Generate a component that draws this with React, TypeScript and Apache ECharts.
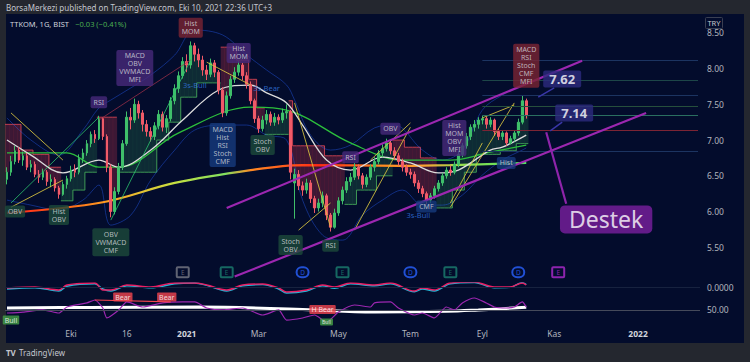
import React, { useEffect, useRef } from 'react';
import * as echarts from 'echarts';

const FONT = 'Noto Sans';
const N_SLOTS = 174;

// ---- candles (slot index = position in arrays) ----
const opens = [6.45,6.55,6.70,6.86,6.72,6.78,6.62,6.66,6.52,6.48, 6.55,6.42,6.45,6.33,6.24,6.38,6.46,6.58,6.55,6.74, 6.82,6.95,7.08,7.02,7.30,7.05,6.62,6.00,6.28,6.62, 6.95,7.32,7.28,7.50,7.38,7.22,7.12,7.05,7.20,7.36, 7.18,7.30,7.55,7.72,7.90,8.10,8.05,8.32,8.20,8.12, 7.98,7.92,8.08,7.95,7.70,7.38,7.62,7.85,7.95,8.05, 7.90,7.78,7.55,7.30,7.16,7.28,7.36,7.25,7.32,7.28, 7.38,7.40,6.40,6.52,6.36,6.30,6.40,6.18,6.05,6.12, 6.22,5.95,5.78,5.98,6.15,6.30,6.42,6.48,6.62,6.50, 6.38,6.48,6.62,6.70,6.82,6.88,6.96,6.85,6.78,6.70, 6.62,6.55,6.52,6.40,6.32,6.25,6.16,6.22,6.32,6.40, 6.50,6.58,6.55,6.66,6.80,6.92,7.05,7.18,7.22,7.28, 7.30,7.22,7.28,7.12,7.05,7.10,6.96,7.02,7.10,7.25, 7.55];
const closes = [6.55,6.70,6.85,6.72,6.78,6.62,6.66,6.52,6.48,6.55, 6.42,6.45,6.33,6.24,6.38,6.46,6.58,6.55,6.74,6.82, 6.95,7.08,7.02,7.30,7.05,6.62,6.00,6.28,6.62,6.95, 7.32,7.28,7.50,7.38,7.22,7.12,7.05,7.20,7.36,7.18, 7.30,7.55,7.72,7.90,8.10,8.05,8.32,8.20,8.12,7.98, 7.92,8.08,7.95,7.70,7.38,7.62,7.85,7.95,8.05,7.90, 7.78,7.55,7.30,7.16,7.28,7.36,7.25,7.32,7.28,7.38, 7.40,6.55,6.52,6.36,6.30,6.40,6.18,6.05,6.12,6.22, 5.95,5.78,5.98,6.15,6.30,6.42,6.48,6.62,6.50,6.38, 6.48,6.62,6.70,6.82,6.88,6.96,6.85,6.78,6.70,6.62, 6.55,6.52,6.40,6.32,6.25,6.16,6.22,6.32,6.40,6.50, 6.58,6.55,6.66,6.80,6.92,7.05,7.18,7.22,7.28,7.30, 7.22,7.28,7.12,7.05,7.10,6.96,7.02,7.10,7.25,7.55, 7.35];
const lows = [6.38,6.50,6.66,6.68,6.64,6.58,6.55,6.48,6.40,6.44, 6.36,6.34,6.28,6.18,6.22,6.32,6.42,6.48,6.52,6.68, 6.78,6.90,6.96,7.00,7.00,6.55,5.92,5.96,6.24,6.58, 6.92,7.15,7.24,7.30,7.12,7.05,6.98,7.00,7.15,7.12, 7.10,7.26,7.50,7.66,7.86,7.95,8.00,8.10,8.02,7.90, 7.84,7.88,7.88,7.64,7.32,7.34,7.58,7.80,7.90,7.84, 7.72,7.50,7.24,7.10,7.12,7.22,7.20,7.20,7.22,7.24, 7.30,6.45,5.90,6.30,6.22,6.25,6.12,5.98,6.00,6.06, 5.88,5.72,5.76,5.94,6.10,6.26,6.36,6.44,6.45,6.32, 6.34,6.44,6.56,6.66,6.76,6.84,6.80,6.72,6.64,6.56, 6.50,6.46,6.35,6.26,6.20,6.10,6.12,6.18,6.28,6.36, 6.46,6.50,6.52,6.62,6.76,6.88,7.00,7.12,7.16,7.22, 7.16,7.18,7.06,7.00,7.00,6.92,6.94,6.98,7.06,7.22, 7.30];
const highs = [6.62,6.78,6.92,6.90,6.84,6.82,6.72,6.70,6.58,6.60, 6.58,6.52,6.48,6.36,6.42,6.50,6.64,6.66,6.80,6.88, 7.00,7.12,7.14,7.34,7.32,7.08,6.66,6.34,6.68,7.00, 7.40,7.45,7.58,7.55,7.42,7.28,7.18,7.25,7.42,7.40, 7.35,7.60,7.78,7.96,8.16,8.20,8.38,8.36,8.28,8.18, 8.05,8.14,8.12,7.98,7.74,7.68,7.90,8.02,8.10,8.08, 7.95,7.82,7.58,7.34,7.34,7.42,7.40,7.38,7.36,7.44, 7.50,7.42,6.60,6.58,6.42,6.46,6.44,6.22,6.18,6.28, 6.25,5.98,6.04,6.20,6.35,6.48,6.54,6.68,6.66,6.54, 6.52,6.66,6.76,6.86,6.94,7.02,7.00,6.90,6.82,6.74, 6.66,6.60,6.56,6.44,6.36,6.28,6.26,6.36,6.44,6.54, 6.62,6.64,6.70,6.84,6.96,7.10,7.22,7.28,7.32,7.34, 7.33,7.32,7.30,7.16,7.14,7.12,7.06,7.14,7.30,7.62, 7.58];

// ---- trailing stop band (step changes) ----
const stopSlots = [0,4,7,11,14,17,20,23,28,38,41,44,48,54,58,61,63,65,71,72,80,85,88,93,97,100,104,108,112,115,118,124,128];
const stopLevels = [7.22,6.86,6.80,6.62,6.15,6.30,6.55,7.32,6.55,7.00,7.25,7.60,7.80,8.30,8.12,7.85,7.45,7.08,7.55,6.92,6.78,6.10,6.30,6.50,7.00,6.90,6.75,6.05,6.30,6.55,6.80,6.85,6.95];
const stopBull = [0,0,0,0,1,1,1,0,1,1,1,1,1,0,0,0,0,1,0,0,0,1,1,1,0,0,0,1,1,1,1,1,1];

// ---- moving averages / bands: [slot, price] vertices ----
const maWhite = [[0,7.00],[6,6.79],[14,6.54],[23,6.72],[28,6.62],[36,6.86],[44,7.28],[53,7.70],[61,7.77],[65,7.66],[70,7.52],[74,7.21],[80,6.72],[86,6.58],[94,6.76],[101,6.68],[108,6.54],[113,6.58],[121,6.86],[124,6.90],[130,7.07]];
const maGreen = [[0,6.82],[15,6.82],[23,6.62],[28,6.62],[43,7.10],[61,7.46],[70,7.42],[86,6.96],[99,6.72],[111,6.72],[121,6.83],[130,6.93]];
const ma200 = [[0,5.98],[24,6.13],[42,6.40],[61,6.58],[74,6.65],[99,6.64],[111,6.65],[130,6.68]];
const bandUpper = [[0,7.31],[6,7.00],[13,6.79],[19,7.14],[23,7.45],[26,7.56],[31,7.73],[36,7.91],[42,8.19],[47,8.54],[54,8.47],[60,8.19],[65,7.98],[70,7.77],[72,7.56],[76,7.07],[81,6.86],[86,6.93],[92,7.17],[97,7.21],[104,6.86],[109,6.72],[114,6.86],[119,7.42],[124,7.63],[129,7.77],[130,7.85]];
const bandLower = [[0,6.16],[6,6.09],[13,6.02],[19,6.16],[23,6.37],[26,5.81],[31,5.95],[36,6.44],[42,6.86],[47,7.14],[54,7.21],[60,7.21],[65,7.07],[70,7.00],[74,6.16],[79,5.67],[84,5.60],[89,5.95],[94,6.16],[99,6.30],[104,6.09],[109,6.09],[114,6.23],[119,6.51],[124,6.72],[129,6.86],[130,6.89]];

// ---- drawn lines: [slot1, price1, slot2, price2] ----
const yellowLines = [[1,7.38,14,6.72],[1,6.06,14,6.44],[50,8.09,61,7.77],[72,7.52,81,5.78],[73,5.74,81,6.12],[87,5.74,101,7.18],[91,6.72,101,7.24],[111,6.12,119,6.96],[111,6.06,127,7.52],[119,7.31,127,7.49]];
const greenLines = [[1,6.12,23,7.32],[26,5.88,46,8.12]];
const redLines = [[23,7.28,46,8.12]];
const purpleLines = [[55,6.05,144,8.11],[57,5.09,160,7.38]];
const pointerLines = [[133,7.60,137,7.73],[136,7.13,139,7.25]];
const destekLine = [135,7.11,140,6.11];
const levelPrices = [8.11,7.84,7.63,7.48,7.35,7.14,6.85];
const levelColors = ['#1c3461','#1d4648','#1c3461','#264f3c','#2a6f60','#7c2434','#1c3461'];
const levelFrom = 119;

// ---- signal labels ----
const sigText = ['OBV','Hist\nOBV','RSI','OBV\nVWMACD\nCMF','MACD\nOBV\nVWMACD\nMFI','Hist\nMOM','Hist\nMOM','MACD\nHist\nRSI\nStoch\nCMF','Stoch\nOBV','Stoch\nOBV','RSI','RSI','OBV','CMF','Hist\nMOM\nOBV\nMFI','Hist','MACD\nRSI\nStoch\nCMF\nMFI'];
const sigSlot = [2,13,23,26,32,46,58,54,64,71,81,86,96,105,112,125,130];
const sigPrice = [6.00,5.95,7.53,5.57,8.01,8.57,8.22,6.93,6.93,5.53,5.52,6.76,7.16,6.07,7.03,6.68,8.04];
const sigKind = ['g','g','p','g','p','r','p','b','g','g','g','p','p','b','p','b','r'];
const tsText = ['3s-Bull','3s-Bear','3s-Bull'];
const tsSlot = [47,65,103];
const tsPrice = [7.77,7.73,5.95];

// ---- callouts ----
const calloutText = ['7.62','7.14','Destek'];
const calloutSlot = [139,142,150];
const calloutPrice = [7.855,7.38,5.89];

// ---- events ----
const evtText = ['E','E','D','E','D','E','D','E'];
const evtSlot = [44,55,74,84,101,111,128,138];
const evtColor = ['#787b86','#1b8070','#2962ff','#1b8070','#2962ff','#1b8070','#2962ff','#b02ad0'];
const evtPrice = 5.15;

// ---- lower pane ----
const rsiLine = [[0,46.6],[4,47.7],[9,50.0],[13,46.6],[15,53.3],[20,57.8],[22,61.1],[24,52.2],[25,41.1],[28,50.0],[30,58.9],[34,53.3],[39,57.8],[44,58.9],[47,58.9],[50,52.2],[54,50.0],[59,52.2],[64,44.4],[68,50.0],[70,38.8],[74,41.1],[77,44.4],[80,36.6],[83,47.7],[87,55.5],[91,53.3],[92,57.8],[96,58.9],[98,52.2],[102,44.4],[104,46.6],[107,41.1],[110,53.3],[112,50.0],[114,57.8],[117,63.3],[120,57.8],[122,53.3],[125,52.2],[127,53.3],[129,58.9],[130,53.3]];
const rsiMa = [[0,52.2],[20,52.8],[48,53.3],[74,50.5],[92,47.7],[110,48.5],[118,50.0],[130,53.0]];
const oscPink = [[0,-0.025],[7,0],[13,-0.075],[15,0.05],[22,0.1],[24,-0.075],[26,-0.075],[30,0.05],[36,0],[42,0.1],[47,0.1],[50,0.05],[55,-0.075],[59,0.05],[64,0.075],[68,-0.025],[70,-0.125],[75,-0.075],[79,0.05],[82,0],[86,0.1],[92,0.05],[96,0.1],[102,-0.1],[104,-0.025],[107,-0.075],[111,0.1],[117,0.125],[122,0],[126,0],[129,0.1],[130,0.05]];
const oscCyan = [[0,-0.05],[7,-0.02],[13,-0.1],[15,0.02],[22,0.08],[24,-0.05],[26,-0.1],[30,0.03],[36,-0.02],[42,0.08],[47,0.1],[50,0.04],[55,-0.1],[59,0.03],[64,0.06],[68,-0.05],[70,-0.15],[75,-0.1],[79,0.03],[82,-0.03],[86,0.08],[92,0.03],[96,0.08],[102,-0.12],[104,-0.05],[107,-0.1],[111,0.08],[117,0.11],[122,-0.02],[126,-0.01],[129,0.11],[130,0.06]];
const divText = ['Bear','Bear','H Bear','Bull','Bull'];
const divSlot = [29,40,79,1,80];
const divVal = [64.4,64.4,50.5,38.8,36.6];
const divBull = [0,0,0,1,1];
const divLine = [22,61.1,41,58.9];

// ---- axis ticks ----
const tickSlots = [16,30,45,63,83,101,119,137,158];
const tickLabels = ['Eki','16','2021','Mar','May','Tem','Eyl','Kas','2022'];
const priceTicks = { min: 5, max: 8.75, interval: 0.5 };
const lastPrice = 7.35;

const kindBg: Record<string, string> = { g: '#1d4a3b', p: '#47297a', r: '#7a2433', b: '#173b7e' };

function buildOption() {
  const slots = Array.from({ length: N_SLOTS }, (_, i) => String(i));
  const candleData = opens.map((o, i) => [o, closes[i], lows[i], highs[i]]);

  const bandData: number[][] = [];
  let k = 0;
  for (let i = 0; i < closes.length; i++) {
    while (k + 1 < stopSlots.length && stopSlots[k + 1] <= i) k++;
    const prev = i > 0 ? bandData[i - 1] : null;
    const prevStop = prev && prev[3] === stopBull[k] ? prev[1] : stopLevels[k];
    bandData.push([i, stopLevels[k], closes[i], stopBull[k], prevStop]);
  }

  const seg = (l: number[], color: string, width: number, type: string = 'solid', opacity = 1) => [
    { coord: [l[0], l[1]], lineStyle: { color, width, type, opacity } },
    { coord: [l[2], l[3]] },
  ];

  const markLines: any[] = [];
  yellowLines.forEach((l) => markLines.push(seg(l, '#d9c640', 1, 'solid', 0.85)));
  greenLines.forEach((l) => markLines.push(seg(l, '#2ecc71', 1, 'solid', 0.75)));
  redLines.forEach((l) => markLines.push(seg(l, '#a8324a', 1, 'solid', 0.7)));
  levelPrices.forEach((p, i) => markLines.push(seg([levelFrom, p, N_SLOTS - 1, p], levelColors[i], 1)));
  purpleLines.forEach((l) => markLines.push(seg(l, '#9c27b0', 2.2)));
  pointerLines.forEach((l) => markLines.push(seg(l, '#3a37a8', 1.5)));
  markLines.push(seg(destekLine, '#8e24aa', 2.2));

  const grad = new echarts.graphic.LinearGradient(0, 0, 1, 0, [
    { offset: 0, color: '#ff2020' },
    { offset: 0.1, color: '#ff5a12' },
    { offset: 0.2, color: '#ffa424' },
    { offset: 0.32, color: '#c8e040' },
    { offset: 0.42, color: '#80e060' },
    { offset: 0.47, color: '#ff8a24' },
    { offset: 0.6, color: '#ff2a14' },
    { offset: 0.72, color: '#ff8a20' },
    { offset: 0.8, color: '#ffa030' },
    { offset: 0.88, color: '#90e050' },
    { offset: 1, color: '#4fe060' },
  ]);

  const lineS = (data: number[][], color: any, width: number, z: number, extra: any = {}) => ({
    type: 'line', xAxisIndex: 0, yAxisIndex: 0, data, showSymbol: false, symbol: 'none',
    smooth: 0.35, lineStyle: { color, width }, z, silent: true, ...extra,
  });

  const sigItems = sigText.map((t, i) => ({
    value: [sigSlot[i], sigPrice[i]],
    label: {
      show: true, position: 'inside', formatter: t, color: '#d6d8de', fontSize: 7, lineHeight: 8,
      backgroundColor: kindBg[sigKind[i]], padding: [2, 3], borderRadius: 2, fontFamily: FONT,
    },
  }));
  const tsItems = tsText.map((t, i) => ({
    value: [tsSlot[i], tsPrice[i]],
    label: { show: true, position: 'inside', formatter: t, color: '#3478e0', fontSize: 7.5, fontFamily: FONT },
  }));
  const calloutItems = calloutText.map((t, i) => {
    const big = t === 'Destek';
    return {
      value: [calloutSlot[i], calloutPrice[i]],
      label: {
        show: true, position: 'inside', formatter: t, color: '#ffffff', fontFamily: FONT,
        fontSize: big ? 23 : 13, fontWeight: big ? 'normal' : 'bold',
        backgroundColor: big ? '#7a1fa0' : '#2d2a80', padding: big ? [2, 9, 3, 9] : [2, 6],
        borderRadius: big ? 5 : 2,
      },
    };
  });
  const evtItems = evtText.map((t, i) => ({
    value: [evtSlot[i], evtPrice],
    label: {
      show: true, position: 'inside', formatter: t, color: evtColor[i], fontSize: 6.5, fontFamily: FONT,
      borderColor: evtColor[i], borderWidth: 1, padding: [1.5, 2.5], borderRadius: t === 'D' ? 6 : 1,
      backgroundColor: 'rgba(0,0,0,0)', width: 7, height: 7, align: 'center', lineHeight: 7,
    },
  }));
  const divItems = divText.map((t, i) => ({
    value: [divSlot[i], divVal[i]],
    label: {
      show: true, position: 'inside', formatter: t, color: '#ffffff', fontSize: t === 'Bull' && i === 4 ? 5 : 7,
      backgroundColor: divBull[i] ? '#43a047' : '#f2454f', padding: [1, 2], borderRadius: 1, fontFamily: FONT,
    },
  }));

  const hiddenScatter = (data: any[], xi: number, yi: number, z: number) => ({
    type: 'scatter', xAxisIndex: xi, yAxisIndex: yi, data, symbolSize: 1,
    itemStyle: { color: 'rgba(0,0,0,0)' }, z, silent: true,
  });

  const axisText = { color: '#b2b5be', fontSize: 8.5, fontFamily: FONT };

  return {
    animation: false,
    textStyle: { fontFamily: FONT },
    grid: [
      { left: 5, top: 15, width: 695, height: 268 },
      { left: 5, top: 283, width: 695, height: 40 },
    ],
    xAxis: [
      { type: 'category', gridIndex: 0, data: slots, axisLine: { show: false }, axisTick: { show: false }, axisLabel: { show: false }, splitLine: { show: false } },
      {
        type: 'category', gridIndex: 1, data: slots, axisLine: { show: false }, axisTick: { show: false }, splitLine: { show: false },
        axisLabel: {
          ...axisText, margin: 6,
          interval: (idx: number) => tickSlots.indexOf(idx) >= 0,
          formatter: (_v: string, idx: number) => {
            const t = tickLabels[tickSlots.indexOf(idx)] || '';
            return /^\d{4}$/.test(t) ? `{y|${t}}` : t;
          },
          rich: { y: { fontWeight: 'bold', color: '#d1d4dc', fontSize: 8.5, fontFamily: FONT } },
        },
      },
    ],
    yAxis: [
      {
        type: 'value', gridIndex: 0, position: 'right', min: priceTicks.min, max: priceTicks.max, interval: priceTicks.interval,
        axisLine: { show: false }, axisTick: { show: false }, splitLine: { show: false },
        axisLabel: { ...axisText, margin: 7, showMinLabel: false, showMaxLabel: false, formatter: (v: number) => v.toFixed(2) },
      },
      { type: 'value', gridIndex: 1, min: 35.5, max: 80, show: false },
      { type: 'value', gridIndex: 1, min: -0.9, max: 0.1, show: false },
    ],
    graphic: [
      { type: 'text', x: 6, y: 7, style: { text: 'BorsaMerkezi published on TradingView.com, Eki 10, 2021 22:36 UTC+3', fill: '#c3c6ce', fontSize: 8, fontFamily: FONT, verticalAlign: 'middle' } },
      {
        type: 'text', x: 10, y: 24,
        style: {
          text: '{a|TTKOM, 1G, BIST}  {b|\u22120.03 (\u22120.41%)}', verticalAlign: 'middle', fontFamily: FONT,
          rich: { a: { fill: '#d1d4dc', fontSize: 7.5, fontFamily: FONT }, b: { fill: '#4caf50', fontSize: 7.5, fontFamily: FONT } },
        },
      },
      { type: 'rect', shape: { x: 705.5, y: 17.5, width: 17, height: 11, r: 1 }, style: { fill: 'none', stroke: '#3a3f52', lineWidth: 1 } },
      { type: 'text', x: 714, y: 23, style: { text: 'TRY', fill: '#c3c6ce', fontSize: 7.5, fontFamily: FONT, align: 'center', verticalAlign: 'middle' } },
      { type: 'text', x: 6, y: 352, style: { text: 'TV', fill: '#c3c6ce', fontSize: 8, fontWeight: 'bold', fontFamily: FONT, verticalAlign: 'middle' } },
      { type: 'text', x: 19, y: 352, style: { text: 'TradingView', fill: '#c3c6ce', fontSize: 8, fontFamily: FONT, verticalAlign: 'middle' } },
    ],
    series: [
      {
        type: 'custom', xAxisIndex: 0, yAxisIndex: 0, data: bandData, z: 1, silent: true,
        encode: { x: 0, y: [1, 2] },
        renderItem: (_p: any, api: any) => {
          const i = api.value(0), stop = api.value(1), cl = api.value(2), bull = api.value(3), prevStop = api.value(4);
          const a = api.coord([i, stop]);
          const b = api.coord([i, cl]);
          const w = api.size([1, 0])[0];
          const x = a[0] - w / 2;
          const edge = bull ? 'rgba(70,170,90,0.85)' : 'rgba(220,70,85,0.85)';
          const children: any[] = [
            { type: 'rect', shape: { x, y: Math.min(a[1], b[1]), width: w + 0.3, height: Math.abs(b[1] - a[1]) }, style: { fill: bull ? 'rgba(60,170,90,0.2)' : 'rgba(235,60,80,0.25)' } },
            { type: 'line', shape: { x1: x, y1: a[1], x2: x + w, y2: a[1] }, style: { stroke: edge, lineWidth: 1 } },
          ];
          if (prevStop !== stop) {
            const c = api.coord([i, prevStop]);
            children.push({ type: 'line', shape: { x1: x, y1: c[1], x2: x, y2: a[1] }, style: { stroke: edge, lineWidth: 1 } });
          }
          return { type: 'group', children };
        },
      },
      lineS(bandUpper, 'rgba(41,98,255,0.4)', 1, 2),
      lineS(bandLower, 'rgba(41,98,255,0.4)', 1, 2),
      lineS(ma200, grad, 2.2, 2),
      lineS(maGreen, '#2cbf3c', 1.3, 2),
      lineS(maWhite, '#dcdcdc', 1.3, 2),
      {
        type: 'candlestick', xAxisIndex: 0, yAxisIndex: 0, data: candleData, barWidth: '55%', z: 3, silent: true,
        itemStyle: { color: '#3fbf6a', color0: '#f05a68', borderColor: '#3fbf6a', borderColor0: '#f05a68', borderWidth: 1 },
        markLine: {
          silent: true, symbol: ['none', 'none'], animation: false,
          data: [{ yAxis: lastPrice, lineStyle: { opacity: 0 }, label: { show: true, position: 'end', distance: 1, formatter: lastPrice.toFixed(2), backgroundColor: '#66bb6a', color: '#0d1b2a', fontSize: 8.5, padding: [2, 4, 1, 4], fontFamily: FONT } }],
        },
      },
      {
        type: 'line', xAxisIndex: 0, yAxisIndex: 0, data: [], z: 4, silent: true,
        markLine: { silent: true, symbol: ['none', 'none'], label: { show: false }, emphasis: { disabled: true }, animation: false, data: markLines },
      },
      hiddenScatter(evtItems, 0, 0, 5),
      hiddenScatter(sigItems, 0, 0, 6),
      hiddenScatter(tsItems, 0, 0, 6),
      hiddenScatter(calloutItems, 0, 0, 7),
      // lower pane
      {
        type: 'line', xAxisIndex: 1, yAxisIndex: 2, data: oscCyan, showSymbol: false, symbol: 'none', smooth: 0.35,
        lineStyle: { color: '#22b8d8', width: 1.4 }, z: 2, silent: true,
        markLine: {
          silent: true, symbol: ['none', 'none'], animation: false,
          data: [{ yAxis: 0, lineStyle: { color: '#17223f', width: 1, type: 'solid' }, label: { show: true, position: 'end', distance: 7, formatter: '0.0000', ...axisText } }],
        },
      },
      {
        type: 'line', xAxisIndex: 1, yAxisIndex: 2, data: oscPink, showSymbol: false, symbol: 'none', smooth: 0.35,
        lineStyle: { color: '#e91e63', width: 1.4 }, z: 3, silent: true,
      },
      {
        type: 'line', xAxisIndex: 1, yAxisIndex: 1, data: rsiMa, showSymbol: false, symbol: 'none', smooth: 0.4,
        lineStyle: { color: '#ffffff', width: 3 }, z: 2, silent: true,
        markLine: {
          silent: true, symbol: ['none', 'none'], animation: false,
          data: [{ yAxis: 50, lineStyle: { color: '#454a5a', width: 1, type: 'solid' }, label: { show: true, position: 'end', distance: 7, formatter: '50.00', ...axisText } }],
        },
      },
      {
        type: 'line', xAxisIndex: 1, yAxisIndex: 1, data: rsiLine, showSymbol: false, symbol: 'none', smooth: 0.2,
        lineStyle: { color: '#9c27b0', width: 1.2 }, z: 3, silent: true,
        markLine: {
          silent: true, symbol: ['none', 'none'], label: { show: false }, animation: false,
          data: [[{ coord: [divLine[0], divLine[1]], lineStyle: { color: '#f2454f', width: 1.2, type: 'solid' } }, { coord: [divLine[2], divLine[3]] }]],
        },
      },
      hiddenScatter(divItems, 1, 1, 6),
    ],
  };
}

export default function App() {
  const ref = useRef<HTMLDivElement>(null);
  useEffect(() => {
    if (!ref.current) return;
    const chart = echarts.init(ref.current, null, { renderer: 'svg' });
    chart.setOption(buildOption() as any);
    return () => chart.dispose();
  }, []);
  return (
    <div style={{ position: 'fixed', left: 0, top: 0, width: 750, height: 362, background: '#24272f', overflow: 'hidden' }}>
      <div style={{ position: 'absolute', left: 6, top: 14, width: 738, height: 329, background: '#030c2c' }} />
      <div ref={ref} style={{ position: 'absolute', left: 0, top: 0, width: 750, height: 362 }} />
    </div>
  );
}
